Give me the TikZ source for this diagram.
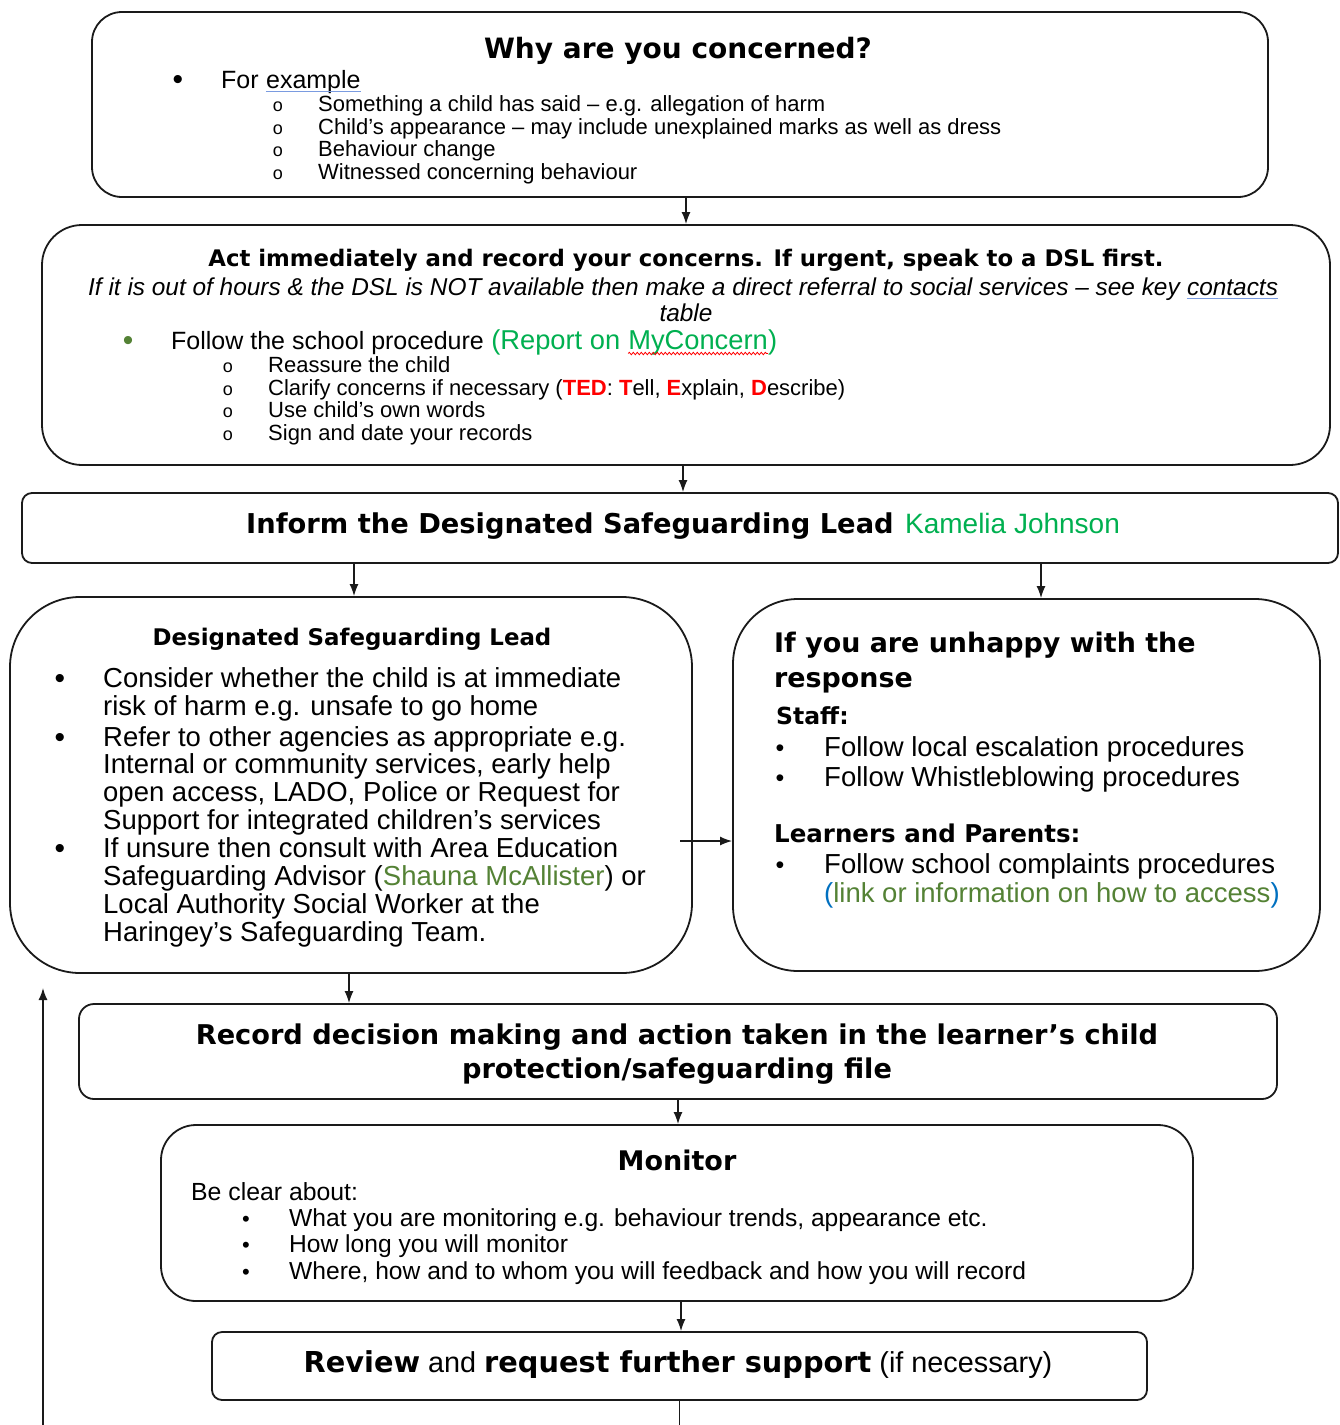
\documentclass[tikz,border=0pt]{standalone}
\usepackage{fontspec}
\setmainfont{Liberation Sans}
\newfontfamily\hd{DejaVu Sans}
\usetikzlibrary{arrows.meta,decorations.pathmorphing}
\definecolor{bgreen}{HTML}{00B050}
\definecolor{ogreen}{HTML}{548235}
\definecolor{pblue}{HTML}{0070C0}
\definecolor{tedred}{HTML}{FF0000}
\definecolor{edge}{HTML}{1A1A1A}
\definecolor{splblue}{HTML}{7A9BE0}
\newcommand\fsz[1]{\fontsize{#1}{#1}\selectfont}
\begin{document}
\begin{tikzpicture}[x=1pt,y=-1pt,
 box/.style={draw=edge,line width=1.8pt,inner sep=0pt},
 arr/.style={draw=edge,line width=1.5pt,-{Latex[length=12pt,width=9pt]}},
 txt/.style={anchor=base west,inner sep=0pt,text=black},
 ctxt/.style={anchor=base,inner sep=0pt,text=black},
 bul/.style={anchor=base,inner sep=0pt,font=\fsz{30}},
 sbul/.style={anchor=base,inner sep=0pt,font=\fsz{25}},
 sub/.style={anchor=base,inner sep=0pt,font=\fsz{18}},
 ttl/.style={font=\hd\bfseries\fsz{#1}},
 rg/.style={font=\fsz{#1}}
]
\fill[white] (0,0) rectangle (1340,1425);
\useasboundingbox (0,0) rectangle (1340,1425);

% ---------- boxes ----------
\node[box,rounded corners=30pt,minimum width=1176pt,minimum height=185pt] (b1) at (680,104.5) {};
\node[box,rounded corners=40pt,minimum width=1288pt,minimum height=240pt] (b2) at (686,345) {};
\node[box,rounded corners=10pt,minimum width=1316pt,minimum height=70pt] (b3) at (680,528) {};
\node[box,rounded corners=70pt,minimum width=682pt,minimum height=376pt] (b4) at (351,785) {};
\node[box,rounded corners=65pt,minimum width=587pt,minimum height=372pt] (b5) at (1026.5,785) {};
\node[box,rounded corners=15pt,minimum width=1198pt,minimum height=95pt] (b6) at (678,1051.5) {};
\node[box,rounded corners=35pt,minimum width=1032pt,minimum height=176pt] (b7) at (677,1213) {};
\node[box,rounded corners=10pt,minimum width=935pt,minimum height=68pt] (b8) at (679.5,1366) {};

% ---------- box 1 ----------
\node[ctxt,ttl=28] (t1) at (678,58) {Why are you concerned?};
\node[bul] (t1bul) at (178,89) {•};
\node[txt,rg=25] (t1c) at (221,88) {For};
\node[txt,rg=25] (t1d) at ([xshift=7]t1c.base east) {example};
\draw[splblue,line width=1.4pt] ([yshift=-3.5]t1d.base west) -- ([yshift=-3.5]t1d.base east);
\node[sub] (o11) at (278,111) {o};
\node[sub] (o12) at (278,134) {o};
\node[sub] (o13) at (278,156) {o};
\node[sub] (o14) at (278,179) {o};
\node[txt,rg=22] (s11) at (318,111) {Something a child has said – e.g. allegation of harm};
\node[txt,rg=22] (s12) at (318,134) {Child’s appearance – may include unexplained marks as well as dress};
\node[txt,rg=22] (s13) at (318,156) {Behaviour change};
\node[txt,rg=22] (s14) at (318,179) {Witnessed concerning behaviour};

% ---------- box 2 ----------
\node[ctxt,ttl=22.8] (t2) at (686,266) {Act immediately and record your concerns. If urgent, speak to a DSL first.};
\node[txt,font=\itshape\fsz{24.4}] (t2b) at (88,295) {If it is out of hours \& the DSL is NOT available then make a direct referral to social services – see key};
\node[txt,font=\itshape\fsz{24.4}] (t2c) at ([xshift=6.8]t2b.base east) {contacts};
\draw[splblue,line width=1.4pt] ([yshift=-3.5]t2c.base west) -- ([yshift=-3.5]t2c.base east);
\node[ctxt,font=\itshape\fsz{24.4}] (t2d) at (686,321) {table};
\node[bul,text=ogreen] (t2bul) at (128,350) {•};
\node[txt,rg=25] (t2f) at (171,349) {Follow the school procedure};
\node[txt,rg=27.3,text=bgreen] (t2g) at ([xshift=7]t2f.base east) {(Report on};
\node[txt,rg=27.3,text=bgreen] (t2h) at ([xshift=7.6]t2g.base east) {MyConcern};
\node[txt,rg=27.3,text=bgreen] (t2i) at (t2h.base east) {)};
\draw[red,line width=0.8pt,decorate,decoration={snake,amplitude=1.2pt,segment length=4pt}] ([yshift=-4.5]t2h.base west) -- ([yshift=-4.5]t2h.base east);
\node[sub] (o21) at (228,372) {o};
\node[sub] (o22) at (228,395) {o};
\node[sub] (o23) at (228,417) {o};
\node[sub] (o24) at (228,440) {o};
\node[txt,rg=22] (s21) at (268,372) {Reassure the child};
\node[txt,rg=22] (s22) at (268,395) {Clarify concerns if necessary (\textcolor{tedred}{\bfseries TED}: \textcolor{tedred}{\bfseries T}ell, \textcolor{tedred}{\bfseries E}xplain, \textcolor{tedred}{\bfseries D}escribe)};
\node[txt,rg=22] (s23) at (268,417) {Use child’s own words};
\node[txt,rg=22] (s24) at (268,440) {Sign and date your records};

% ---------- box 3 ----------
\node[txt,ttl=27.3] (t3) at (246,533) {Inform the Designated Safeguarding Lead};
\node[txt,rg=28,text=bgreen] (t3b) at ([xshift=11]t3.base east) {Kamelia Johnson};

% ---------- box 4 ----------
\node[ctxt,ttl=22.9] (t4) at (352,645) {Designated Safeguarding Lead};
\node[bul] (b4u1) at (60,688) {•};
\node[bul] (b4u2) at (60,747) {•};
\node[bul] (b4u3) at (60,858) {•};
\node[txt,rg=27.5] (l41) at (103,687) {Consider whether the child is at immediate};
\node[txt,rg=27.5] (l42) at (103,715) {risk of harm e.g. unsafe to go home};
\node[txt,rg=27.5] (l43) at (103,746) {Refer to other agencies as appropriate e.g.};
\node[txt,rg=27.5] (l44) at (103,773) {Internal or community services, early help};
\node[txt,rg=27.5] (l45) at (103,801) {open access, LADO, Police or Request for};
\node[txt,rg=27.5] (l46) at (103,829) {Support for integrated children’s services};
\node[txt,rg=27.5] (l47) at (103,857) {If unsure then consult with Area Education};
\node[txt,rg=27.5] (l48) at (103,885) {Safeguarding Advisor (\textcolor{ogreen}{Shauna McAllister}) or};
\node[txt,rg=27.5] (l49) at (103,913) {Local Authority Social Worker at the};
\node[txt,rg=27.5] (l410) at (103,941) {Haringey’s Safeguarding Team.};

% ---------- box 5 ----------
\node[txt,ttl=26.9] (t5) at (774,652) {If you are unhappy with the};
\node[txt,ttl=26.9] (t5b) at (774,687) {response};
\node[txt,ttl=23.5] (t5c) at (776,724) {Staff:};
\node[sbul] (b5u1) at (780,756) {•};
\node[sbul] (b5u2) at (780,786) {•};
\node[txt,rg=27.5] (l51) at (824,756) {Follow local escalation procedures};
\node[txt,rg=27.5] (l52) at (824,786) {Follow Whistleblowing procedures};
\node[txt,ttl=24.5] (t5d) at (774,842) {Learners and Parents:};
\node[sbul] (b5u3) at (780,873) {•};
\node[txt,rg=27.5] (l53) at (824,873) {Follow school complaints procedures};
\node[txt,rg=27.5] (l54) at (824,902) {\textcolor{pblue}{(}\textcolor{ogreen}{link or information on how to access}\textcolor{pblue}{)}};

% ---------- box 6 ----------
\node[ctxt,ttl=27.2] (t6) at (677,1044) {Record decision making and action taken in the learner’s child};
\node[ctxt,ttl=27.2] (t6b) at (677,1078) {protection/safeguarding file};

% ---------- box 7 ----------
\node[ctxt,ttl=27] (t7) at (677,1170) {Monitor};
\node[txt,rg=24.8] (t7b) at (191,1200) {Be clear about:};
\node[sbul,font=\fsz{22}] (b7u1) at (246,1226) {•};
\node[sbul,font=\fsz{22}] (b7u2) at (246,1252) {•};
\node[sbul,font=\fsz{22}] (b7u3) at (246,1279) {•};
\node[txt,rg=24.6] (l71) at (289,1226) {What you are monitoring e.g. behaviour trends, appearance etc.};
\node[txt,rg=24.6] (l72) at (289,1252) {How long you will monitor};
\node[txt,rg=24.6] (l73) at (289,1279) {Where, how and to whom you will feedback and how you will record};

% ---------- box 8 ----------
\node[ctxt,rg=28.8] (t8) at (678,1372) {{\hd\bfseries Review} and {\hd\bfseries request further support} (if necessary)};

% ---------- connectors ----------
\draw[arr] (b2.north |- b1.south) -- (b2.north);
\draw[arr] ([xshift=-3]b2.south) -- ([xshift=-3]b2.south |- b3.north);
\coordinate (c34) at (354,563);
\draw[arr] (c34) -- (c34 |- b4.north);
\coordinate (c35) at (1041,563);
\draw[arr] (c35) -- (c35 |- b5.north);
\coordinate (c45) at (680,841);
\draw[arr] (c45) -- (c45 -| b5.west);
\coordinate (c46) at (349,973);
\draw[arr] (c46) -- (c46 |- b6.north);
\draw[arr] (b6.south) -- (b6.south |- b7.north);
\coordinate (c78) at (681,1301);
\draw[arr] (c78) -- (c78 |- b8.north);
\coordinate (cb) at (679.5,1425);
\draw[draw=edge,line width=1.5pt] (b8.south) -- (cb);
\coordinate (lb) at (43,1425);
\coordinate (lt) at (43,988);
\draw[arr] (lb) -- (lt);
\end{tikzpicture}
\end{document}
